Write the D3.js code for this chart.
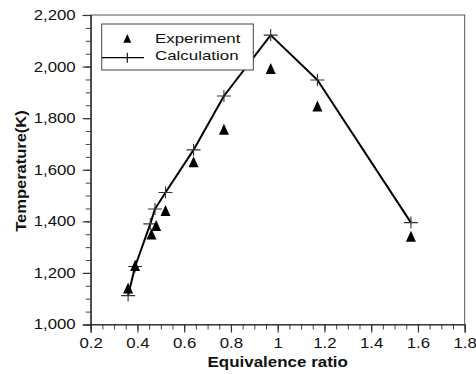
<!DOCTYPE html>
<html>
<head>
<meta charset="utf-8">
<script src="https://cdn.jsdelivr.net/npm/d3@7"></script>
<style>
  body { margin: 0; background: #fff; }
  svg { display: block; font-family: "Liberation Sans", Arial, sans-serif; }
</style>
</head>
<body>
<svg id="chart" width="476" height="374"></svg>
<script>
// data
const calcPhi = [0.36, 0.39, 0.455, 0.475, 0.52, 0.64, 0.77, 0.97, 1.17, 1.57];
const calcT = [1112, 1225, 1390, 1448, 1512, 1677, 1886, 2122, 1948, 1395];
const expPhi = [0.36, 0.39, 0.46, 0.48, 0.52, 0.64, 0.77, 0.97, 1.17, 1.57];
const expT = [1142, 1229, 1351, 1384, 1442, 1631, 1757, 1993, 1847, 1342];
const xTicks = [0.2, 0.4, 0.6, 0.8, 1, 1.2, 1.4, 1.6, 1.8];
const yTicks = [1000, 1200, 1400, 1600, 1800, 2000, 2200];
const seriesNames = ["Experiment", "Calculation"];

const svg = d3.select("#chart");
const plotL = 90.7, plotR = 464.7, plotT = 15, plotB = 324.5;
const stretch = 1.2; // the original text is a bit wider than it is tall

const x = d3.scaleLinear().domain([0.2, 1.8]).range([plotL, plotR]);
const y = d3.scaleLinear().domain([1000, 2200]).range([plotB, plotT]);

const minorX = d3.range(0.2, 1.8001, 0.05).map(v => +v.toFixed(2));
const minorY = d3.range(1000, 2201, 50);

// frame
svg.append("rect")
  .attr("x", plotL).attr("y", plotT)
  .attr("width", plotR - plotL).attr("height", plotB - plotT)
  .attr("fill", "none").attr("stroke", "#555").attr("stroke-width", 1);

// minor ticks
svg.append("g").attr("transform", "translate(0," + plotB + ")")
  .call(d3.axisBottom(x).tickValues(minorX).tickSize(5).tickFormat(""))
  .call(g => g.select(".domain").remove())
  .selectAll("line").attr("stroke", "#444");
svg.append("g").attr("transform", "translate(" + plotL + ",0)")
  .call(d3.axisLeft(y).tickValues(minorY).tickSize(5).tickFormat(""))
  .call(g => g.select(".domain").remove())
  .selectAll("line").attr("stroke", "#444");

// major ticks + labels
const xAxis = svg.append("g").attr("transform", "translate(0," + plotB + ")")
  .call(d3.axisBottom(x).tickValues(xTicks).tickSize(8).tickPadding(6)
    .tickFormat(d => String(+d.toFixed(1))));
const yAxis = svg.append("g").attr("transform", "translate(" + plotL + ",0)")
  .call(d3.axisLeft(y).tickValues(yTicks).tickSize(8).tickPadding(7)
    .tickFormat(d3.format(",")));

[xAxis, yAxis].forEach(g => {
  g.select(".domain").attr("stroke", "#222").attr("stroke-width", 1.2);
  g.selectAll(".tick line").attr("stroke", "#333").attr("stroke-width", 1.2);
  g.selectAll(".tick text")
    .attr("font-family", "Liberation Sans, Arial, sans-serif")
    .attr("font-size", 14).attr("fill", "#111");
});
xAxis.selectAll(".tick text").attr("transform", "scale(" + stretch + ",1)");
yAxis.selectAll(".tick text")
  .attr("x", -15 / stretch)
  .attr("transform", "scale(" + stretch + ",1)");

// axis titles
svg.append("text")
  .attr("transform", "translate(" + ((plotL + plotR) / 2) + ",367) scale(1.13,1)")
  .attr("text-anchor", "middle")
  .attr("font-size", 15).attr("font-weight", "bold").attr("fill", "#111")
  .text("Equivalence ratio");
svg.append("text")
  .attr("transform", "translate(26,171) rotate(-90) scale(1.1,1)")
  .attr("text-anchor", "middle")
  .attr("font-size", 15).attr("font-weight", "bold").attr("fill", "#111")
  .text("Temperature(K)");

// calculation line
const line = d3.line().x(d => x(d[0])).y(d => y(d[1]));
svg.append("path")
  .datum(d3.zip(calcPhi, calcT))
  .attr("d", line)
  .attr("fill", "none").attr("stroke", "#000").attr("stroke-width", 2)
  .attr("stroke-linejoin", "round");

const tri = "M0,-5.5L5,5.5L-5,5.5Z";
const plus = "M-7,0H7M0,-6V6";

svg.append("g").selectAll("path")
  .data(d3.zip(calcPhi, calcT))
  .join("path")
  .attr("transform", d => "translate(" + x(d[0]) + "," + y(d[1]) + ")")
  .attr("d", plus)
  .attr("stroke", "#333").attr("stroke-width", 1.1).attr("fill", "none");

svg.append("g").selectAll("path")
  .data(d3.zip(expPhi, expT))
  .join("path")
  .attr("transform", d => "translate(" + x(d[0]) + "," + y(d[1]) + ")")
  .attr("d", tri)
  .attr("fill", "#000");

// legend
const lg = svg.append("g");
lg.append("rect")
  .attr("x", 101.7).attr("y", 24).attr("width", 151.6).attr("height", 46)
  .attr("fill", "#fff").attr("stroke", "#444").attr("stroke-width", 1);
lg.append("path")
  .attr("transform", "translate(127.3,38.3) scale(0.8)")
  .attr("d", tri).attr("fill", "#000");
lg.append("line")
  .attr("x1", 102).attr("x2", 144).attr("y1", 57.7).attr("y2", 57.7)
  .attr("stroke", "#000").attr("stroke-width", 1.2);
lg.append("path")
  .attr("transform", "translate(127.3,57.7)")
  .attr("d", "M0,-5V5").attr("stroke", "#000").attr("stroke-width", 1.1);
lg.selectAll("text")
  .data(seriesNames)
  .join("text")
  .attr("transform", (d, i) => "translate(155," + (43.3 + i * 16.7) + ") scale(1.3,1)")
  .attr("font-size", 13).attr("fill", "#111")
  .text(d => d);
</script>
</body>
</html>
